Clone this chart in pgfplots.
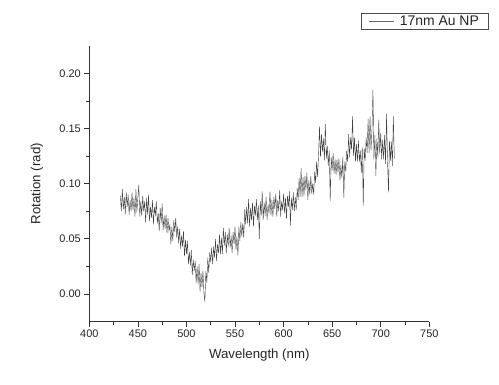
\documentclass[border=0pt]{standalone}
\usepackage{fontspec}
\setmainfont{Liberation Sans}
\usepackage{pgfplots}
\pgfplotsset{compat=1.18}
\begin{document}
\begin{tikzpicture}[x=1bp,y=1bp]
\begin{axis}[
  at={(0,0)}, anchor=south west,
  scale only axis, width=340bp, height=275.7bp,
  xmin=400, xmax=750, ymin=-0.025, ymax=0.225,
  axis x line*=bottom, axis y line*=left,
  axis line style={-, black!80, line width=0.7bp},
  xtick={400,450,...,750}, minor x tick num=1,
  ytick={0,0.05,...,0.2}, minor y tick num=1,
  tick align=outside,
  major tick length=5bp, minor tick length=3bp,
  every tick/.style={black!80, line width=0.6bp},
  /pgf/number format/assume math mode=true,
  yticklabel style={/pgf/number format/.cd, fixed, fixed zerofill, precision=2},
  scaled y ticks=false,
  tick label style={font=\fontsize{11}{13}\selectfont, text=black!85},
  xlabel={Wavelength (nm)}, ylabel={Rotation (rad)},
  xlabel style={at={(axis description cs:0.5,-0.1215)}, anchor=center},
  ylabel style={at={(axis description cs:-0.154,0.5)}, anchor=center},
  label style={font=\fontsize{13.3}{15}\selectfont, text=black!85},
  legend style={at={(1.173,1.118)}, anchor=north east, draw=black!70, line width=0.6bp,
    font=\fontsize{14}{16}\selectfont, inner xsep=7bp, inner ysep=0.5bp, text=black!85},
  legend image code/.code={\draw[black!60, line width=0.5bp] (0bp,0bp) -- (25bp,0bp); \path (29bp,0bp);},
  clip=false,
]
\addplot[black!75, line width=0.4bp] table {
x y
432 0.089
433 0.075
434 0.095
435 0.077
436 0.088
437 0.072
438 0.092
439 0.079
440 0.090
441 0.072
442 0.085
443 0.075
444 0.092
445 0.076
446 0.087
447 0.070
448 0.095
449 0.074
450 0.088
451 0.099
452 0.070
453 0.084
454 0.071
455 0.089
456 0.075
457 0.084
458 0.065
459 0.087
460 0.072
461 0.090
462 0.066
463 0.079
464 0.069
465 0.085
466 0.063
467 0.079
468 0.071
469 0.084
470 0.064
471 0.073
472 0.057
473 0.078
474 0.064
475 0.082
476 0.058
477 0.071
478 0.059
479 0.072
480 0.055
481 0.069
482 0.057
483 0.063
484 0.045
485 0.061
486 0.048
487 0.067
488 0.056
489 0.069
490 0.051
491 0.061
492 0.046
493 0.059
494 0.041
495 0.053
496 0.043
497 0.057
498 0.034
499 0.049
500 0.036
501 0.048
502 0.027
503 0.038
504 0.026
505 0.040
506 0.017
507 0.031
508 0.021
509 0.030
510 0.010
511 0.025
512 0.009
513 0.027
514 0.002
515 0.019
516 0.006
517 0.021
518 0.000
519 -0.007
520 0.021
521 0.010
522 0.033
523 0.019
524 0.038
525 0.029
526 0.042
527 0.027
528 0.043
529 0.033
530 0.050
531 0.030
532 0.045
533 0.037
534 0.054
535 0.036
536 0.051
537 0.036
538 0.060
539 0.044
540 0.056
541 0.037
542 0.054
543 0.043
544 0.060
545 0.042
546 0.053
547 0.037
548 0.056
549 0.045
550 0.061
551 0.040
552 0.052
553 0.035
554 0.061
555 0.048
556 0.065
557 0.052
558 0.064
559 0.051
560 0.077
561 0.063
562 0.079
563 0.064
564 0.086
565 0.061
566 0.078
567 0.067
568 0.083
569 0.061
570 0.080
571 0.071
572 0.086
573 0.067
574 0.080
575 0.050
576 0.084
577 0.071
578 0.093
579 0.067
580 0.083
581 0.071
582 0.088
583 0.067
584 0.081
585 0.073
586 0.093
587 0.071
588 0.085
589 0.070
590 0.088
591 0.077
592 0.091
593 0.070
594 0.085
595 0.075
596 0.094
597 0.070
598 0.084
599 0.076
600 0.091
601 0.073
602 0.087
603 0.068
604 0.089
605 0.079
606 0.093
607 0.062
608 0.087
609 0.076
610 0.092
611 0.075
612 0.088
613 0.076
614 0.096
615 0.085
616 0.105
617 0.088
618 0.114
619 0.088
620 0.106
621 0.089
622 0.107
623 0.094
624 0.110
625 0.085
626 0.103
627 0.090
628 0.107
629 0.091
630 0.100
631 0.090
632 0.111
633 0.101
634 0.120
635 0.106
636 0.126
637 0.152
638 0.124
639 0.145
640 0.129
641 0.141
642 0.121
643 0.154
644 0.123
645 0.134
646 0.116
647 0.130
648 0.084
649 0.124
650 0.112
651 0.128
652 0.109
653 0.122
654 0.108
655 0.122
656 0.110
657 0.123
658 0.103
659 0.117
660 0.105
661 0.124
662 0.087
663 0.120
664 0.111
665 0.130
666 0.120
667 0.145
668 0.124
669 0.142
670 0.131
671 0.161
672 0.125
673 0.142
674 0.120
675 0.136
676 0.120
677 0.139
678 0.120
679 0.130
680 0.110
681 0.133
682 0.080
683 0.132
684 0.121
685 0.142
686 0.128
687 0.159
688 0.128
689 0.161
690 0.130
691 0.150
692 0.185
693 0.122
694 0.144
695 0.107
696 0.141
697 0.124
698 0.158
699 0.127
700 0.146
701 0.122
702 0.140
703 0.122
704 0.144
705 0.118
706 0.163
707 0.120
708 0.092
709 0.139
710 0.121
711 0.138
712 0.116
713 0.161
714 0.123
};
\addlegendentry{17nm Au NP}
\end{axis}
\pgfresetboundingbox
\path[use as bounding box] (-89.3bp,-63.5bp) rectangle (409.7bp,321.5bp);
\end{tikzpicture}
\end{document}
